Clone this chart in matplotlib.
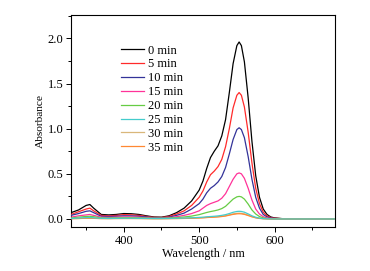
import matplotlib.pyplot as plt
from matplotlib.ticker import MultipleLocator

plt.rcParams['font.family'] = ['Liberation Serif', 'DejaVu Serif']

# wavelength grid (nm)
wl = [330, 340, 350, 355, 360, 370, 380, 390, 400, 410, 420, 430, 440, 450,
      460, 470, 480, 490, 500, 505, 510, 515, 520, 525, 530, 535, 540, 545,
      550, 553, 556, 560, 565, 570, 575, 580, 585, 590, 595, 600, 610, 620,
      640, 660, 680]

labels = ['0 min', '5 min', '10 min', '15 min', '20 min', '25 min', '30 min', '35 min']
colors = ['#000000', '#ff2a2a', '#333399', '#ff3399', '#66cc44', '#44cccc', '#d9b77a', '#ff8833']

a0 = [0.07, 0.10, 0.15, 0.16, 0.12, 0.05, 0.045, 0.05, 0.06, 0.058, 0.05, 0.035, 0.022, 0.02,
      0.035, 0.07, 0.12, 0.20, 0.32, 0.42, 0.56, 0.68, 0.75, 0.81, 0.92, 1.10, 1.40, 1.72,
      1.92, 1.96, 1.92, 1.74, 1.34, 0.86, 0.48, 0.24, 0.11, 0.05, 0.022, 0.012, 0.004, 0.001,
      0, 0, 0]
a5 = [0.05, 0.08, 0.11, 0.12, 0.09, 0.04, 0.035, 0.04, 0.048, 0.046, 0.04, 0.028, 0.018, 0.016,
      0.028, 0.055, 0.09, 0.15, 0.24, 0.31, 0.41, 0.49, 0.53, 0.58, 0.66, 0.80, 1.00, 1.23,
      1.37, 1.40, 1.37, 1.24, 0.96, 0.62, 0.34, 0.17, 0.075, 0.034, 0.016, 0.009, 0.003, 0.001,
      0, 0, 0]
a10 = [0.04, 0.06, 0.085, 0.09, 0.07, 0.03, 0.028, 0.03, 0.035, 0.034, 0.03, 0.022, 0.014, 0.013,
       0.02, 0.04, 0.065, 0.11, 0.17, 0.22, 0.29, 0.34, 0.37, 0.41, 0.47, 0.57, 0.72, 0.88,
       0.99, 1.01, 0.99, 0.90, 0.69, 0.44, 0.24, 0.12, 0.05, 0.023, 0.01, 0.006, 0.002, 0,
       0, 0, 0]
a15 = [0.02, 0.035, 0.045, 0.05, 0.04, 0.02, 0.018, 0.02, 0.022, 0.022, 0.02, 0.015, 0.01, 0.01,
       0.014, 0.025, 0.04, 0.06, 0.09, 0.12, 0.15, 0.17, 0.185, 0.20, 0.23, 0.28, 0.36, 0.44,
       0.50, 0.51, 0.50, 0.45, 0.34, 0.21, 0.11, 0.055, 0.025, 0.012, 0.005, 0.003, 0.001, 0,
       0, 0, 0]
a20 = [0.01, 0.02, 0.028, 0.03, 0.025, 0.012, 0.01, 0.012, 0.014, 0.014, 0.012, 0.01, 0.008, 0.008,
       0.01, 0.015, 0.022, 0.032, 0.048, 0.06, 0.072, 0.082, 0.09, 0.10, 0.115, 0.14, 0.18, 0.22,
       0.245, 0.25, 0.245, 0.22, 0.165, 0.10, 0.055, 0.027, 0.012, 0.006, 0.003, 0.001, 0, 0,
       0, 0, 0]
a25 = [0.005, 0.01, 0.015, 0.016, 0.013, 0.007, 0.006, 0.007, 0.008, 0.008, 0.007, 0.006, 0.005, 0.005,
       0.006, 0.008, 0.01, 0.013, 0.017, 0.02, 0.024, 0.027, 0.03, 0.034, 0.04, 0.048, 0.06, 0.074,
       0.083, 0.085, 0.083, 0.075, 0.056, 0.035, 0.019, 0.009, 0.004, 0.002, 0.001, 0, 0, 0,
       0, 0, 0]
a30 = [0.004, 0.006, 0.009, 0.009, 0.008, 0.005, 0.004, 0.005, 0.006, 0.006, 0.005, 0.004, 0.003, 0.003,
       0.004, 0.005, 0.007, 0.009, 0.012, 0.014, 0.017, 0.02, 0.022, 0.025, 0.03, 0.036, 0.046, 0.056,
       0.062, 0.064, 0.062, 0.056, 0.042, 0.026, 0.014, 0.007, 0.003, 0.001, 0, 0, 0, 0,
       0, 0, 0]
a35 = [0.003, 0.005, 0.008, 0.008, 0.007, 0.004, 0.004, 0.005, 0.005, 0.005, 0.005, 0.004, 0.003, 0.003,
       0.004, 0.005, 0.006, 0.008, 0.011, 0.013, 0.016, 0.018, 0.02, 0.023, 0.027, 0.033, 0.042, 0.051,
       0.057, 0.058, 0.057, 0.051, 0.038, 0.024, 0.013, 0.006, 0.003, 0.001, 0, 0, 0, 0,
       0, 0, 0]
series = [a0, a5, a10, a15, a20, a25, a30, a35]
zorders = [3, 3, 3, 3, 3, 5, 3, 4]

fig = plt.figure(figsize=(3.70, 2.71), dpi=100)
ax = fig.add_axes([0.192, 0.162, 0.713, 0.783])

for y, lab, c, z in zip(series, labels, colors, zorders):
    ax.plot(wl, y, color=c, lw=0.9, label=lab, zorder=z)

ax.set_xlim(330, 680)
ax.set_ylim(-0.09, 2.26)
ax.xaxis.set_major_locator(MultipleLocator(100))
ax.xaxis.set_minor_locator(MultipleLocator(50))
ax.yaxis.set_major_locator(MultipleLocator(0.5))
ax.yaxis.set_minor_locator(MultipleLocator(0.25))
ax.tick_params(which='major', direction='out', length=3.5, width=0.7, labelsize=9, pad=2)
ax.tick_params(which='minor', direction='out', length=2, width=0.7)
ax.yaxis.set_major_formatter(plt.FormatStrFormatter('%.1f'))
for s in ax.spines.values():
    s.set_linewidth(0.8)

ax.set_xlabel('Wavelength / nm', fontsize=8.7, labelpad=1)
ax.set_ylabel('Absorbance', fontsize=8.2, labelpad=2)

ax.legend(loc='upper left', bbox_to_anchor=(0.19, 0.86), frameon=False, fontsize=9,
          handlelength=1.8, handletextpad=0.35, labelspacing=0.15, borderpad=0, borderaxespad=0)

plt.savefig('out.png', dpi=100)
